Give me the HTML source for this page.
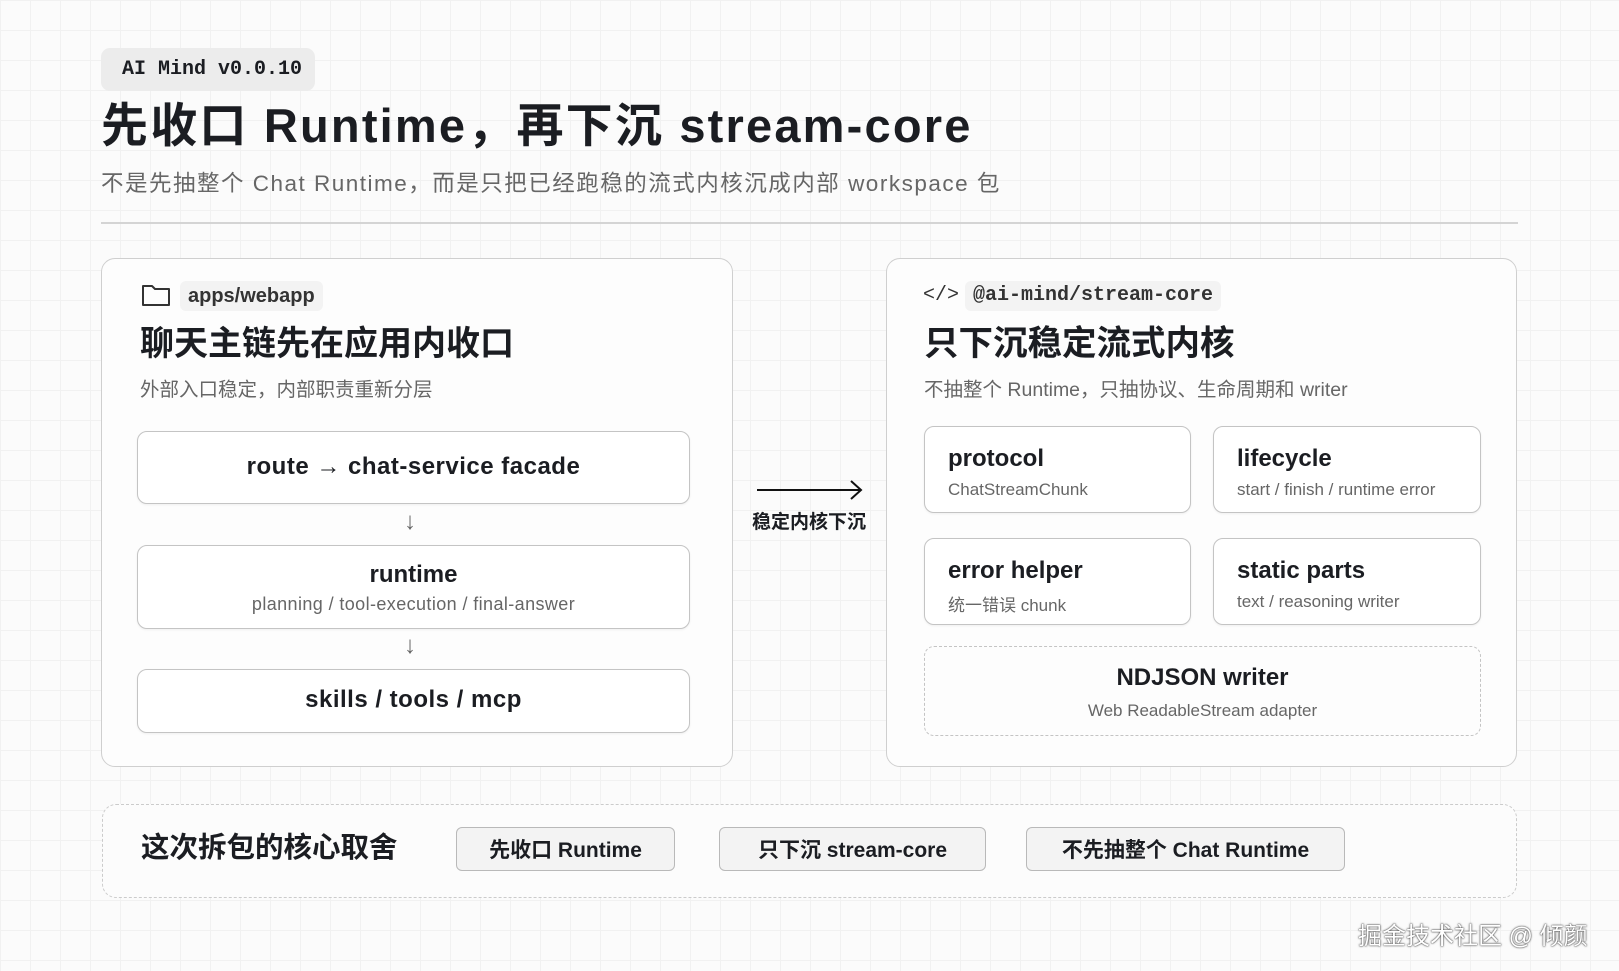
<!DOCTYPE html>
<html><head><meta charset="utf-8"><style>
*{margin:0;padding:0;box-sizing:border-box}
body{width:1619px;height:971px;overflow:hidden;background:#fbfbfb;
background-image:linear-gradient(#f1f1f1 1px,transparent 1px),linear-gradient(90deg,#f1f1f1 1px,transparent 1px);background-size:30px 30px;
font-family:"Liberation Sans","Noto Sans CJK SC",sans-serif;color:#1b1d22;position:relative}
.a{position:absolute}
.mono{font-family:"Liberation Mono","Noto Sans CJK SC",monospace}
.panel{position:absolute;border:1.5px solid #cfcfcf;border-radius:14px;background:#fdfdfd}
.box{position:absolute;border:1.5px solid #c4c4c4;border-radius:10px;background:#fff;box-shadow:0 1px 2px rgba(0,0,0,.06)}
.c{text-align:center;left:0;right:0}
.chip{position:absolute;top:827px;height:44px;border:1.5px solid #b9b9b9;border-radius:6px;background:#f3f3f3;font-size:21px;font-weight:bold;display:flex;align-items:center;justify-content:center}
</style></head><body>
<div class="a mono" style="left:101px;top:48px;width:214px;height:43px;background:#ececec;border-radius:9px;font-size:20px;font-weight:bold;line-height:43px;padding-left:21px">AI Mind v0.0.10</div>
<div class="a" style="left:101px;top:96px;font-size:47px;font-weight:bold;white-space:nowrap;line-height:60px;letter-spacing:2.2px">先收口 Runtime，再下沉 stream-core</div>
<div class="a" style="left:101px;top:169px;font-size:22.5px;color:#666;white-space:nowrap;line-height:30px;letter-spacing:1.5px">不是先抽整个 Chat Runtime，而是只把已经跑稳的流式内核沉成内部 workspace 包</div>
<div class="a" style="left:101px;top:222px;width:1417px;height:1.5px;background:#d4d4d4"></div>

<div class="panel" style="left:101px;top:258px;width:632px;height:509px"></div>
<svg class="a" style="left:141px;top:283px" width="30" height="24" viewBox="0 0 30 24"><path d="M2 3h9l3 3h14v16H2z" fill="none" stroke="#333" stroke-width="2" stroke-linejoin="round"/></svg>
<div class="a" style="left:180px;top:281px;height:30px;padding:0 8px;background:#f3f3f3;border-radius:6px;font-size:20px;font-weight:bold;color:#333;line-height:30px">apps/webapp</div>
<div class="a" style="left:140px;top:322px;font-size:34px;font-weight:bold;line-height:44px">聊天主链先在应用内收口</div>
<div class="a" style="left:140px;top:377px;font-size:19.5px;color:#666;line-height:26px">外部入口稳定，内部职责重新分层</div>
<div class="box" style="left:137px;top:431px;width:553px;height:73px"><div class="a c" style="top:21px;font-size:24px;font-weight:bold;letter-spacing:0.5px">route → chat-service facade</div></div>
<div class="a" style="left:404px;top:508px;font-size:24px;color:#666">↓</div>
<div class="box" style="left:137px;top:545px;width:553px;height:84px"><div class="a c" style="top:15px;font-size:24px;font-weight:bold">runtime</div><div class="a c" style="top:48px;font-size:18px;color:#666;letter-spacing:0.4px">planning / tool-execution / final-answer</div></div>
<div class="a" style="left:404px;top:632px;font-size:24px;color:#666">↓</div>
<div class="box" style="left:137px;top:669px;width:553px;height:64px"><div class="a c" style="top:16px;font-size:24px;font-weight:bold;letter-spacing:0.5px">skills / tools / mcp</div></div>

<svg class="a" style="left:755px;top:478px" width="110" height="24"><line x1="2" y1="12" x2="106" y2="12" stroke="#111" stroke-width="2"/><path d="M96 3l10 9-10 9" fill="none" stroke="#111" stroke-width="2"/></svg>
<div class="a" style="left:749px;top:507px;width:120px;text-align:center;font-size:19px;font-weight:bold">稳定内核下沉</div>

<div class="panel" style="left:886px;top:258px;width:631px;height:509px"></div>
<div class="a mono" style="left:923px;top:284px;font-size:20px;color:#333">&lt;/&gt;</div>
<div class="a mono" style="left:965px;top:281px;height:30px;padding:0 8px;background:#f3f3f3;border-radius:6px;font-size:20px;font-weight:bold;color:#333;line-height:30px">@ai-mind/stream-core</div>
<div class="a" style="left:924px;top:322px;font-size:34.5px;font-weight:bold;line-height:44px">只下沉稳定流式内核</div>
<div class="a" style="left:924px;top:377px;font-size:19.5px;color:#666;line-height:26px">不抽整个 Runtime，只抽协议、生命周期和 writer</div>
<div class="box" style="left:924px;top:426px;width:267px;height:87px"><div class="a" style="left:23px;top:18px;font-size:24px;font-weight:bold">protocol</div><div class="a" style="left:23px;top:53px;font-size:17px;color:#666">ChatStreamChunk</div></div>
<div class="box" style="left:1213px;top:426px;width:268px;height:87px"><div class="a" style="left:23px;top:18px;font-size:24px;font-weight:bold">lifecycle</div><div class="a" style="left:23px;top:53px;font-size:17px;color:#666">start / finish / runtime error</div></div>
<div class="box" style="left:924px;top:538px;width:267px;height:87px"><div class="a" style="left:23px;top:18px;font-size:24px;font-weight:bold">error helper</div><div class="a" style="left:23px;top:52px;font-size:17px;color:#666">统一错误 chunk</div></div>
<div class="box" style="left:1213px;top:538px;width:268px;height:87px"><div class="a" style="left:23px;top:18px;font-size:24px;font-weight:bold">static parts</div><div class="a" style="left:23px;top:53px;font-size:17px;color:#666">text / reasoning writer</div></div>
<div class="a" style="left:924px;top:646px;width:557px;height:90px;border:1.5px dashed #c4c4c4;border-radius:10px"><div class="a c" style="top:17px;font-size:24px;font-weight:bold">NDJSON writer</div><div class="a c" style="top:54px;font-size:17px;color:#666">Web ReadableStream adapter</div></div>

<div class="a" style="left:102px;top:804px;width:1415px;height:94px;border:1.5px dashed #cbcbcb;border-radius:14px;background:#fcfcfc"></div>
<div class="a" style="left:141px;top:830px;font-size:28.5px;font-weight:bold;line-height:36px">这次拆包的核心取舍</div>
<div class="chip" style="left:456px;width:219px">先收口 Runtime</div>
<div class="chip" style="left:719px;width:267px">只下沉 stream-core</div>
<div class="chip" style="left:1026px;width:319px">不先抽整个 Chat Runtime</div>
<div class="a" style="left:1358px;top:916px;font-size:24px;color:#fff;text-shadow:0 0 2px #444,0 0 1px #222;white-space:nowrap">掘金技术社区 @ 倾颜</div>
</body></html>
